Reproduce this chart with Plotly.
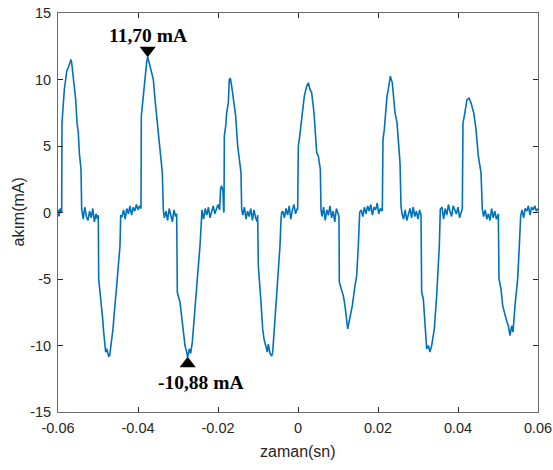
import plotly.graph_objects as go

# time (s) and current (mA), segment by segment
t_s = [
    -0.06000, -0.05975, -0.05950, -0.05925,
    -0.05908, -0.05900, -0.05883, -0.05867, -0.05842, -0.05808, -0.05783, -0.05742, -0.05700, -0.05675,
    -0.05658, -0.05617, -0.05592, -0.05558, -0.05525, -0.05492, -0.05467, -0.05442, -0.05425, -0.05408,
    -0.0537, -0.0533, -0.0529, -0.0525, -0.0521, -0.0517, -0.0513, -0.0509, -0.0505, -0.0501,
    -0.04992, -0.04983, -0.04967, -0.04942, -0.04908, -0.04883, -0.04858, -0.04833, -0.04808, -0.04783,
    -0.04758, -0.04733, -0.04708, -0.04683, -0.04658, -0.04625, -0.04592, -0.04558, -0.04525, -0.04492,
    -0.04450, -0.04433,
    -0.0440, -0.0436, -0.0432, -0.0428, -0.0424, -0.0420, -0.0416, -0.0412, -0.0408, -0.0404, -0.0400,
    -0.0396, -0.03925,
    -0.03917, -0.03892, -0.03867, -0.03842, -0.03808, -0.03783, -0.03758, -0.03725, -0.03675, -0.03617,
    -0.03575, -0.03517, -0.03467, -0.03408, -0.03392, -0.03367,
    -0.0334, -0.0330, -0.0326, -0.0322, -0.0318, -0.0314, -0.0310, -0.0306, -0.03033,
    -0.03017, -0.02950, -0.02908, -0.02867, -0.02825, -0.02783, -0.02758, -0.02717, -0.02683, -0.02642,
    -0.02575, -0.02517, -0.02450, -0.02425, -0.02400,
    -0.0236, -0.0232, -0.0228, -0.0224, -0.0220, -0.0216, -0.0212, -0.0208, -0.0204, -0.0200, -0.0196,
    -0.01935, -0.0191, -0.01875, -0.01858,
    -0.01850, -0.01842, -0.01808, -0.01783, -0.01742, -0.01717, -0.01692, -0.01658, -0.01617, -0.01558,
    -0.01508, -0.01450, -0.01425, -0.01408,
    -0.0138, -0.0134, -0.0130, -0.0126, -0.0122, -0.0118, -0.0114, -0.0110, -0.0106, -0.0102, -0.01008,
    -0.00992, -0.00950, -0.00925, -0.00883, -0.00850, -0.00808, -0.00767, -0.00742, -0.00700, -0.00658,
    -0.00633, -0.00592, -0.00550, -0.00492, -0.00450, -0.00425, -0.00408,
    -0.0038, -0.0034, -0.0030, -0.0026, -0.0022, -0.0018, -0.0014, -0.0010, -0.0006, -0.0002, -0.00008,
    0.00008, 0.00033, 0.00075, 0.00117, 0.00158, 0.00217, 0.00258, 0.00300, 0.00342, 0.00400, 0.00467,
    0.00508, 0.00558, 0.00575,
    0.0060, 0.0064, 0.0068, 0.0072, 0.0076, 0.0080, 0.0084, 0.0088, 0.0092, 0.0096, 0.0100, 0.01025,
    0.01033, 0.01075, 0.01133, 0.01175, 0.01217, 0.01242, 0.01275, 0.01308, 0.01358, 0.01425, 0.01467,
    0.01508, 0.01542,
    0.0158, 0.0162, 0.0166, 0.0170, 0.0174, 0.0178, 0.0182, 0.0186, 0.0190, 0.0194, 0.0198, 0.0202,
    0.0206, 0.0210,
    0.02108, 0.02125, 0.02158, 0.02192, 0.02225, 0.02258, 0.02308, 0.02358, 0.02425, 0.02475, 0.02508,
    0.02550, 0.02575,
    0.0260, 0.0264, 0.0268, 0.0272, 0.0276, 0.0280, 0.0284, 0.0288, 0.0292, 0.0296, 0.0300, 0.0304, 0.03075,
    0.03092, 0.03133, 0.03158, 0.03192, 0.03217, 0.03258, 0.03300, 0.03342, 0.03408, 0.03467, 0.03508,
    0.03533, 0.03558,
    0.0360, 0.0364, 0.0368, 0.0372, 0.0376, 0.0380, 0.0384, 0.0388, 0.0392, 0.0396, 0.0400, 0.0404, 0.04108,
    0.04125, 0.04158, 0.04192, 0.04225, 0.04275, 0.04325, 0.04392, 0.04450, 0.04508, 0.04575, 0.04608,
    0.0464, 0.0468, 0.0472, 0.0476, 0.0480, 0.0484, 0.0488, 0.0492, 0.0496, 0.0500, 0.05008,
    0.05025, 0.05075, 0.05117, 0.05175, 0.05225, 0.05258, 0.05300, 0.05342, 0.05375, 0.05425, 0.05492,
    0.05533, 0.05567,
    0.0560, 0.0564, 0.0568, 0.0572, 0.0576, 0.0580, 0.0584, 0.0588, 0.0592, 0.0596, 0.0600,
]

i_ma = [
    0.2, -0.3, 0.3, 0.1,
    0.0, 6.75, 7.5, 8.75, 9.25, 10.0, 10.6, 10.9, 11.25, 11.5,
    11.25, 10.25, 9.5, 8.5, 6.75, 6.0, 4.5, 3.5, 3.25, 0.25,
    -0.5, 0.4, -0.3, -0.6, 0.1, -0.4, 0.3, -0.7, -0.1, -0.5,
    -0.2, -5.0, -5.5, -5.75, -7.0, -8.0, -9.0, -10.0, -10.5, -10.25,
    -10.6, -10.8, -10.75, -10.25, -9.75, -8.75, -7.5, -6.5, -5.25, -4.0,
    -2.5, -0.25,
    -0.3, 0.2, -0.5, 0.3, -0.1, 0.5, -0.2, 0.4, 0.1, 0.6, 0.2,
    0.5, 0.3,
    7.25, 8.0, 9.0, 10.0, 11.0, 11.3, 11.7, 11.25, 10.75, 10.0,
    8.5, 6.75, 5.0, 3.75, 3.0, 0.2,
    -0.4, 0.1, -0.6, 0.3, -0.2, -0.7, 0.2, -0.3, -0.1,
    -6.0, -6.75, -8.0, -9.0, -10.0, -10.5, -10.88, -10.25, -10.6, -9.75,
    -7.5, -5.0, -2.5, -1.25, 0.2,
    -0.5, 0.3, -0.2, 0.4, -0.4, 0.1, 0.5, -0.1, 0.3, 0.6, 0.2,
    1.8, 2.0, 1.6, 0.0,
    0.1, 5.75, 6.5, 7.5, 8.25, 10.0, 10.1, 9.5, 8.5, 7.25,
    5.0, 3.5, 3.0, 0.25,
    -0.2, 0.4, -0.5, 0.1, -0.3, 0.3, -0.6, 0.2, -0.4, -0.7, -0.2,
    -4.0, -5.5, -6.75, -8.75, -9.5, -10.0, -10.5, -9.9, -10.6, -10.8,
    -10.5, -8.75, -7.0, -4.5, -2.5, -0.5, 0.0,
    0.1, -0.4, 0.3, -0.2, 0.5, -0.5, 0.2, 0.6, -0.1, 0.3, 0.2,
    5.0, 5.5, 6.5, 7.5, 8.75, 9.5, 9.75, 9.25, 9.0, 7.5, 4.5,
    4.25, 3.25, 0.2,
    -0.3, 0.4, -0.6, 0.2, -0.2, 0.5, -0.4, 0.1, -0.7, 0.3, -0.1, -0.3,
    -5.25, -5.75, -6.25, -7.0, -8.0, -8.75, -8.25, -7.75, -7.0, -5.5, -4.75,
    -2.5, 0.0,
    0.2, -0.3, 0.4, -0.1, 0.5, 0.1, 0.6, -0.2, 0.4, 0.2, 0.7, -0.1,
    0.3, 0.1,
    0.2, 5.5, 6.25, 7.5, 8.75, 9.25, 10.25, 9.75, 7.5, 6.75, 5.0,
    3.75, 0.5,
    -0.1, -0.5, 0.2, -0.6, -0.2, 0.3, -0.4, 0.4, -0.3, 0.1, -0.5, 0.2, -0.2,
    -6.0, -6.5, -7.5, -9.5, -10.25, -10.0, -10.5, -10.0, -8.75, -6.25, -4.0,
    -2.5, 0.25,
    0.4, -0.5, 0.3, -0.2, 0.6, 0.1, -0.3, 0.5, 0.2, -0.1, 0.4, -0.4, 0.3,
    6.75, 7.25, 8.0, 8.5, 8.6, 8.25, 7.5, 6.25, 4.25, 3.0, 0.25,
    -0.3, 0.2, -0.5, -0.1, -0.6, 0.3, -0.4, 0.1, -0.5, -0.2, -0.1,
    -5.0, -5.75, -7.0, -7.75, -8.25, -8.5, -9.25, -8.5, -9.0, -7.0, -5.0,
    -2.5, -0.25,
    0.2, -0.4, 0.3, 0.1, 0.5, -0.2, 0.4, 0.2, 0.5, 0.1, 0.3,
]

x_ticks = [-0.06, -0.04, -0.02, 0, 0.02, 0.04, 0.06]
x_tick_labels = ["-0.06", "-0.04", "-0.02", "0", "0.02", "0.04", "0.06"]
y_ticks = [-15, -10, -5, 0, 5, 10, 15]
y_tick_labels = ["-15", "-10", "-5", "0", "5", "10", "15"]
peak_label = "11,70 mA"
trough_label = "-10,88 mA"
x_title = "zaman(sn)"
y_title = "akım(mA)"

k_max = max(range(len(i_ma)), key=lambda k: i_ma[k])
k_min = min(range(len(i_ma)), key=lambda k: i_ma[k])
t_max, i_max = t_s[k_max], i_ma[k_max]
t_min, i_min = t_s[k_min], i_ma[k_min]

AX = "#262626"
SANS = "Liberation Sans, Arial"
fig = go.Figure()
fig.add_trace(go.Scatter(x=t_s, y=i_ma, mode="lines",
                         line=dict(color="#0072BD", width=1.6), hoverinfo="skip"))
fig.add_trace(go.Scatter(x=[t_max], y=[i_max + 0.5], mode="markers",
                         marker=dict(symbol="triangle-down", size=14, color="black"),
                         hoverinfo="skip"))
fig.add_trace(go.Scatter(x=[t_min], y=[i_min - 0.5], mode="markers",
                         marker=dict(symbol="triangle-up", size=14, color="black"),
                         hoverinfo="skip"))

serif = dict(family="Liberation Serif, Times New Roman, serif", size=19.5, color="black")
fig.add_annotation(x=t_max, y=i_max, text="<b>" + peak_label + "</b>", showarrow=False,
                   yanchor="middle", yshift=21, font=serif)
fig.add_annotation(x=t_min, y=i_min, text="<b>" + trough_label + "</b>", showarrow=False,
                   yanchor="middle", yshift=-25, xshift=13, font=serif)

# axis titles as paper annotations (fixed positions like the reference)
fig.add_annotation(xref="paper", yref="paper", x=0.5, y=0, yshift=-39, text=x_title,
                   xanchor="center", yanchor="middle",
                   showarrow=False, font=dict(family=SANS, size=16, color=AX))
fig.add_annotation(xref="paper", yref="paper", x=0, y=0.5, xshift=-40, text=y_title,
                   xanchor="center", yanchor="middle",
                   textangle=-90, showarrow=False, font=dict(family=SANS, size=16, color=AX))

axis_common = dict(showline=True, linecolor="#6a6a6a", linewidth=1, mirror="ticks",
                   ticks="inside", ticklen=5, tickcolor=AX, showgrid=False,
                   zeroline=False, automargin=False, ticklabeloverflow="allow",
                   tickfont=dict(family=SANS, size=14.5, color=AX))
fig.update_xaxes(range=[-0.06, 0.06], tickvals=x_ticks, ticktext=x_tick_labels,
                 ticklabelstandoff=3, **axis_common)
fig.update_yaxes(range=[-15, 15], tickvals=y_ticks, ticktext=y_tick_labels,
                 ticklabelstandoff=3, **axis_common)
fig.update_layout(width=553, height=470, margin=dict(l=58, r=15, t=13, b=58),
                  plot_bgcolor="white", paper_bgcolor="white", showlegend=False,
                  hovermode=False)
# remove the browser's default 8 px body margin so the figure fills the window exactly
fig.write_html("out.html", config=dict(displayModeBar=False),
               post_script="document.body.style.margin='0';document.body.style.overflow='hidden';")
